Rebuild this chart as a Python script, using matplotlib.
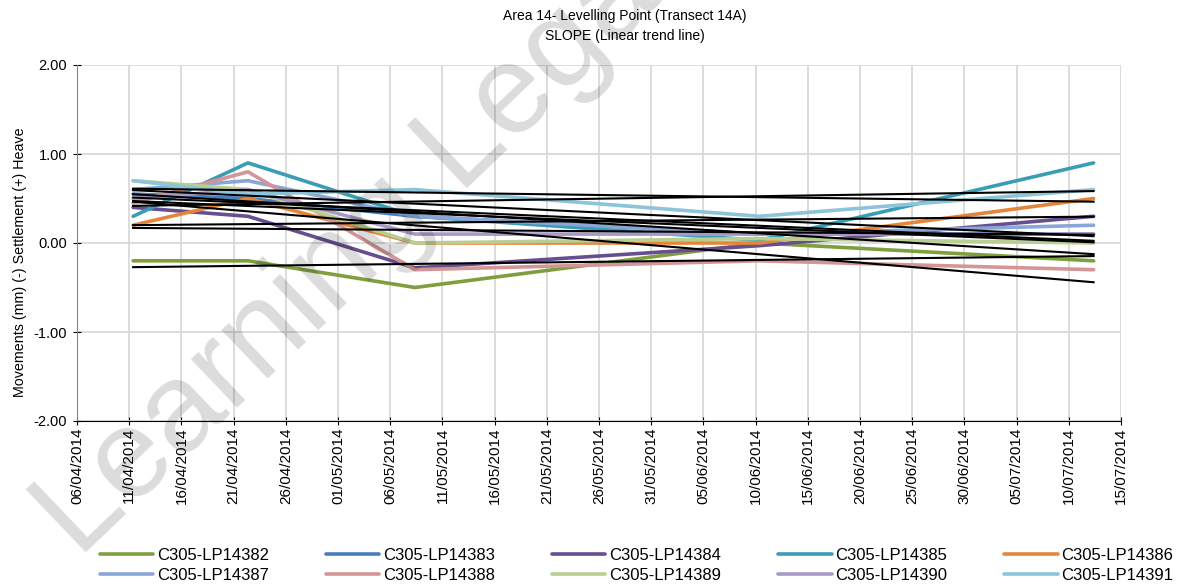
import numpy as np
import pandas as pd
import matplotlib
matplotlib.use('Agg')
import matplotlib.pyplot as plt
import matplotlib.dates as mdates

plt.rcParams['font.family'] = ['Liberation Sans', 'DejaVu Sans']

# survey dates
dates = pd.to_datetime(['2014-04-11 09:00', '2014-04-22 09:00', '2014-05-08 09:00',
                        '2014-06-10 09:00', '2014-07-12 09:00'])

# movements (mm) per levelling point
lp14382 = [-0.20, -0.20, -0.50, 0.00, -0.20]
lp14383 = [0.55, 0.50, 0.30, 0.10, 0.10]
lp14384 = [0.40, 0.30, -0.28, -0.03, 0.30]
lp14385 = [0.30, 0.90, 0.30, 0.03, 0.90]
lp14386 = [0.20, 0.50, 0.00, 0.00, 0.50]
lp14387 = [0.60, 0.70, 0.30, 0.10, 0.20]
lp14388 = [0.45, 0.80, -0.30, -0.20, -0.30]
lp14389 = [0.70, 0.60, 0.00, 0.05, 0.00]
lp14390 = [0.50, 0.60, 0.10, 0.10, 0.10]
lp14391 = [0.70, 0.55, 0.60, 0.30, 0.60]

names = ['C305-LP14382', 'C305-LP14383', 'C305-LP14384', 'C305-LP14385', 'C305-LP14386',
         'C305-LP14387', 'C305-LP14388', 'C305-LP14389', 'C305-LP14390', 'C305-LP14391']
series = [lp14382, lp14383, lp14384, lp14385, lp14386,
          lp14387, lp14388, lp14389, lp14390, lp14391]
colors = ['#7F9F3F', '#4A7EBB', '#664E8F', '#3A9DB5', '#E6853A',
          '#8AA6D6', '#D49596', '#B9CE93', '#A999C6', '#8CC4D8']

fig = plt.figure(figsize=(11.78, 5.86), dpi=100)
ax = fig.add_axes([77 / 1178, 1 - 421 / 586, (1121 - 77) / 1178, (421 - 65) / 586])

xnum = mdates.date2num(dates)
handles = []
for vals, name, col in zip(series, names, colors):
    h, = ax.plot(dates, vals, color=col, lw=2.6, solid_joinstyle='round',
                 solid_capstyle='round', label=name, zorder=2)
    handles.append(h)

# linear trend lines
for vals in series:
    k, b = np.polyfit(xnum, vals, 1)
    xs = np.array([xnum[0], xnum[-1]])
    ax.plot(mdates.num2date(xs), k * xs + b, color='black', lw=1.5, zorder=3)

ticks = pd.date_range('2014-04-06', '2014-07-15', freq='5D')
ax.set_xlim(ticks[0], ticks[-1])
ax.set_xticks(ticks)
ax.xaxis.set_major_formatter(mdates.DateFormatter('%d/%m/%Y'))
ax.set_ylim(-2, 2)
ax.set_yticks([-2, -1, 0, 1, 2])
ax.set_yticklabels(['%.2f' % v for v in [-2, -1, 0, 1, 2]])
ax.tick_params(axis='x', labelrotation=90, labelsize=11, direction='inout', length=6, pad=2)
ax.tick_params(axis='y', labelsize=10.5, direction='inout', length=6, pad=4)

ax.grid(True, color='#D9D9D9', lw=1.3)
ax.set_axisbelow(True)
for s in ['top', 'right']:
    ax.spines[s].set_visible(False)
ax.spines['left'].set_color('#868686')
ax.spines['bottom'].set_color('black')
ax.set_ylabel('Movements (mm) (-) Settlement (+) Heave', fontsize=10.3)
ax.yaxis.set_label_coords(-50 / 1044, (421 - 262) / 356)

fig.text(625 / 1178, 1 - 16 / 586, 'Area 14- Levelling Point (Transect 14A)',
         ha='center', va='center', fontsize=10)
fig.text(625 / 1178, 1 - 36 / 586, 'SLOPE (Linear trend line)',
         ha='center', va='center', fontsize=10)

order = [0, 5, 1, 6, 2, 7, 3, 8, 4, 9]
fig.legend([handles[i] for i in order], [names[i] for i in order], ncol=5,
           loc='upper left', bbox_to_anchor=(100 / 1178, 1 - 588 / 586, 1073 / 1178, 40 / 586),
           mode='expand', frameon=False, fontsize=12, handlelength=3.2,
           handletextpad=0.2, borderaxespad=0, borderpad=0, labelspacing=0.3)

# watermark
fig.text(79 / 1178, 1 - 559 / 586, 'Learning Legal', fontsize=91, rotation=43.7,
         rotation_mode='anchor', ha='left', va='baseline', color='black', alpha=0.14)

fig.savefig('out.png', dpi=100)
